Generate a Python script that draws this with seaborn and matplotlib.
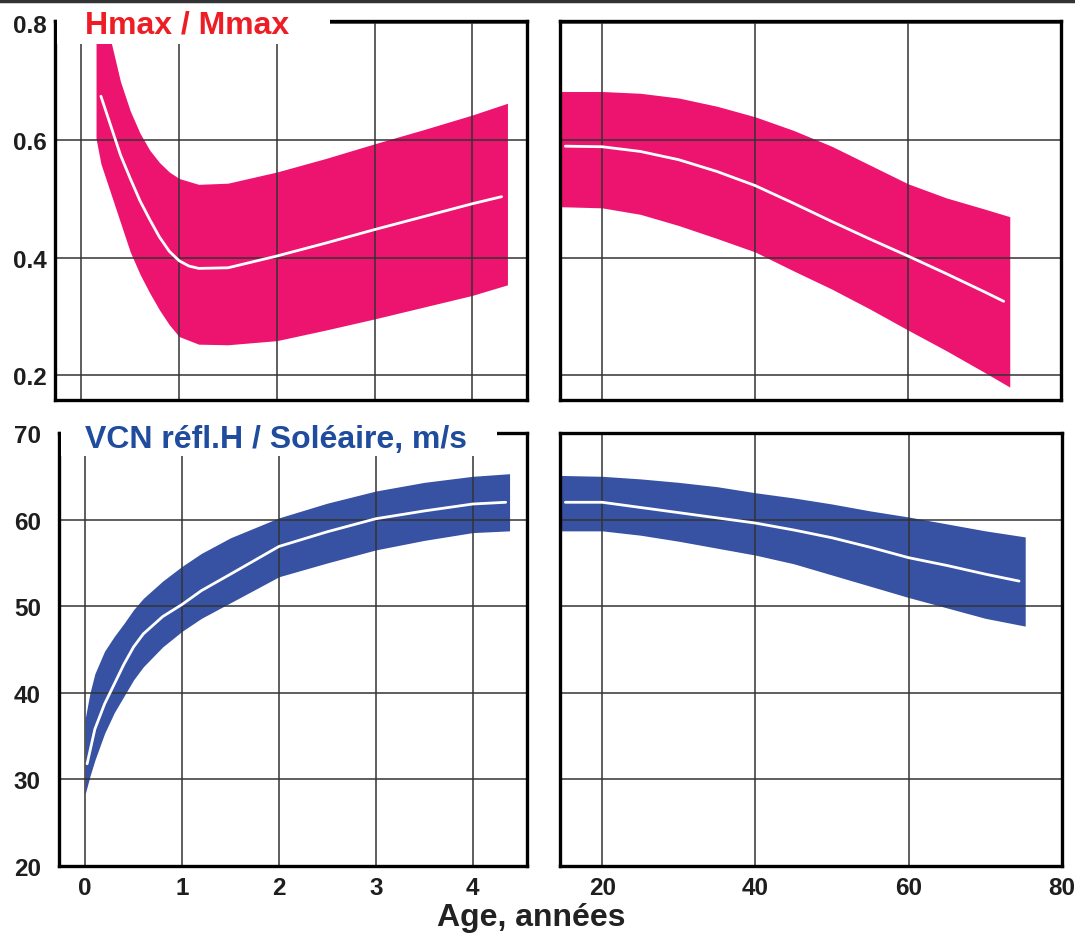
import matplotlib
matplotlib.use("Agg")
import matplotlib.pyplot as plt
from matplotlib.patches import Rectangle
from matplotlib.lines import Line2D
import seaborn as sns
import pandas as pd

# --- Hmax / Mmax, enfants (0-4.4 ans) ---
hm_child_age = [0.15, 0.2, 0.3, 0.4, 0.5, 0.6, 0.7, 0.8, 0.9, 1.0, 1.2, 1.5, 2.0, 2.5, 3.0, 3.5, 4.0, 4.36]
hm_child_hi = [0.92, 0.86, 0.77, 0.70, 0.65, 0.612, 0.583, 0.562, 0.546, 0.535, 0.525, 0.527, 0.546, 0.569, 0.594, 0.618, 0.643, 0.663]
hm_child_lo = [0.603, 0.56, 0.51, 0.46, 0.41, 0.372, 0.34, 0.311, 0.286, 0.266, 0.253, 0.252, 0.259, 0.277, 0.296, 0.316, 0.336, 0.354]
hm_child_mid_age = [0.2, 0.3, 0.4, 0.5, 0.6, 0.7, 0.8, 0.9, 1.0, 1.1, 1.2, 1.5, 2.0, 2.5, 3.0, 3.5, 4.0, 4.3]
hm_child_mid = [0.675, 0.625, 0.575, 0.535, 0.497, 0.465, 0.435, 0.411, 0.395, 0.386, 0.382, 0.383, 0.403, 0.425, 0.448, 0.470, 0.492, 0.504]

# --- Hmax / Mmax, adultes (15-73 ans) ---
hm_adult_age = [14.5, 20, 25, 30, 35, 40, 45, 50, 55, 60, 65, 70, 73.3]
hm_adult_hi = [0.683, 0.683, 0.68, 0.672, 0.658, 0.640, 0.617, 0.59, 0.558, 0.526, 0.502, 0.483, 0.470]
hm_adult_lo = [0.487, 0.485, 0.474, 0.455, 0.433, 0.410, 0.378, 0.347, 0.313, 0.277, 0.242, 0.205, 0.18]
hm_adult_mid_age = [15.2, 20, 25, 30, 35, 40, 45, 50, 55, 60, 65, 70, 72.5]
hm_adult_mid = [0.590, 0.589, 0.581, 0.567, 0.547, 0.523, 0.493, 0.462, 0.432, 0.403, 0.373, 0.342, 0.326]

# --- VCN reflexe H / soleaire, enfants ---
vcn_child_age = [0, 0.05, 0.1, 0.2, 0.3, 0.4, 0.5, 0.6, 0.8, 1.0, 1.2, 1.5, 2.0, 2.5, 3.0, 3.5, 4.0, 4.38]
vcn_child_hi = [37.0, 40.0, 42.2, 44.8, 46.5, 48.0, 49.6, 50.9, 52.9, 54.6, 56.1, 57.9, 60.2, 61.9, 63.3, 64.3, 65.0, 65.3]
vcn_child_lo = [28.3, 30.4, 32.2, 35.3, 37.7, 39.6, 41.5, 43.0, 45.3, 47.1, 48.6, 50.4, 53.4, 55.0, 56.5, 57.6, 58.5, 58.7]
vcn_child_mid_age = [0.02, 0.1, 0.2, 0.3, 0.4, 0.5, 0.6, 0.8, 1.0, 1.2, 1.5, 2.0, 2.5, 3.0, 3.5, 4.0, 4.34]
vcn_child_mid = [31.8, 35.8, 38.7, 41.0, 43.3, 45.3, 46.8, 48.8, 50.2, 51.8, 53.7, 56.9, 58.6, 60.1, 61.0, 61.8, 62.0]

# --- VCN reflexe H / soleaire, adultes ---
vcn_adult_age = [14.5, 20, 25, 30, 35, 40, 45, 50, 55, 60, 65, 70, 75.2]
vcn_adult_hi = [65.1, 65.0, 64.7, 64.3, 63.8, 63.1, 62.5, 61.8, 61.0, 60.3, 59.5, 58.7, 58.0]
vcn_adult_lo = [58.7, 58.7, 58.2, 57.5, 56.7, 55.9, 54.9, 53.6, 52.3, 51.0, 49.8, 48.6, 47.7]
vcn_adult_mid_age = [15.2, 20, 25, 30, 35, 40, 45, 50, 55, 60, 65, 70, 74.4]
vcn_adult_mid = [62.0, 62.0, 61.4, 60.8, 60.2, 59.6, 58.8, 57.9, 56.8, 55.6, 54.7, 53.7, 52.9]

child_ticks = [0, 1, 2, 3, 4]
adult_ticks = [20, 40, 60, 80]
hm_ticks = [0.2, 0.4, 0.6, 0.8]
vcn_ticks = [20, 30, 40, 50, 60, 70]

PINK = "#ED1470"
BLUE = "#3751A3"

sns.set_theme(style="white")
plt.rcParams['font.family'] = ['Liberation Sans', 'DejaVu Sans']

fig = plt.figure(figsize=(10.75, 9.37), dpi=100)
W, H = 1075, 937


def px_axes(x0, y0, x1, y1):
    return fig.add_axes([x0 / W, 1 - y1 / H, (x1 - x0) / W, (y1 - y0) / H])


ax_hc = px_axes(55, 22, 527, 401)
ax_ha = px_axes(560, 22, 1061, 401)
ax_vc = px_axes(59, 434, 527, 867)
ax_va = px_axes(560, 434, 1062, 867)


def band(ax, age, lo, hi, mid_age, mid, color):
    ax.fill_between(age, lo, hi, color=color, linewidth=0, zorder=1)
    d = pd.DataFrame({"age": mid_age, "val": mid})
    sns.lineplot(data=d, x="age", y="val", ax=ax, color="white", linewidth=2, zorder=3)


band(ax_hc, hm_child_age, hm_child_lo, hm_child_hi, hm_child_mid_age, hm_child_mid, PINK)
band(ax_ha, hm_adult_age, hm_adult_lo, hm_adult_hi, hm_adult_mid_age, hm_adult_mid, PINK)
band(ax_vc, vcn_child_age, vcn_child_lo, vcn_child_hi, vcn_child_mid_age, vcn_child_mid, BLUE)
band(ax_va, vcn_adult_age, vcn_adult_lo, vcn_adult_hi, vcn_adult_mid_age, vcn_adult_mid, BLUE)

for ax in (ax_hc, ax_vc):
    ax.set_xlim(-0.27, 4.56)
    ax.set_xticks(child_ticks)
for ax in (ax_ha, ax_va):
    ax.set_xlim(14.5, 80)
    ax.set_xticks(adult_ticks)
for ax in (ax_hc, ax_ha):
    ax.set_ylim(0.158, 0.803)
    ax.set_yticks(hm_ticks)
    ax.set_yticklabels([f"{t:.1f}" for t in hm_ticks])
for ax in (ax_vc, ax_va):
    ax.set_ylim(20, 70)
    ax.set_yticks(vcn_ticks)

for ax in (ax_hc, ax_ha, ax_vc, ax_va):
    ax.set_xlabel("")
    ax.set_ylabel("")
    ax.set_axisbelow(False)
    ax.grid(True, color="#333333", linewidth=1.1)
    for s in ax.spines.values():
        s.set_color("black")
        s.set_linewidth(2.4)
        s.set_zorder(5)
    ax.tick_params(length=0, labelsize=17.5)
    for lab in ax.get_xticklabels() + ax.get_yticklabels():
        lab.set_fontweight("bold")
        lab.set_color("#1e1e1e")

ax_hc.tick_params(axis="y", pad=6)
ax_vc.tick_params(axis="y", pad=13)
ax_vc.tick_params(axis="x", pad=7)
ax_va.tick_params(axis="x", pad=7)
for ax in (ax_hc, ax_ha):
    ax.tick_params(axis="x", labelbottom=False)
for ax in (ax_ha, ax_va):
    ax.tick_params(axis="y", labelleft=False)

# white title boxes over the top-left corners
ax_hc.add_patch(Rectangle((0.004, 0.939), 0.579, 0.09, transform=ax_hc.transAxes,
                          facecolor="white", edgecolor="none", clip_on=False, zorder=6))
ax_hc.text(0.064, 0.992, "Hmax / Mmax", transform=ax_hc.transAxes, ha="left", va="center",
           fontsize=23, fontweight="bold", color="#EE1C25", zorder=7)

ax_vc.add_patch(Rectangle((0.004, 0.947), 0.932, 0.08, transform=ax_vc.transAxes,
                          facecolor="white", edgecolor="none", clip_on=False, zorder=6))
ax_vc.text(0.056, 0.985, "VCN réfl.H / Soléaire, m/s", transform=ax_vc.transAxes, ha="left",
           va="center", fontsize=23, fontweight="bold", color="#1F4C9C", zorder=7)

fig.text(531 / W, 1 - 918 / H, "Age, années", ha="center", va="center",
         fontsize=23, fontweight="bold", color="#222222")

fig.add_artist(Line2D([0, 1], [1 - 2 / H, 1 - 2 / H], transform=fig.transFigure,
                      color="#333333", linewidth=2.5))

fig.savefig("out.png", dpi=100)
